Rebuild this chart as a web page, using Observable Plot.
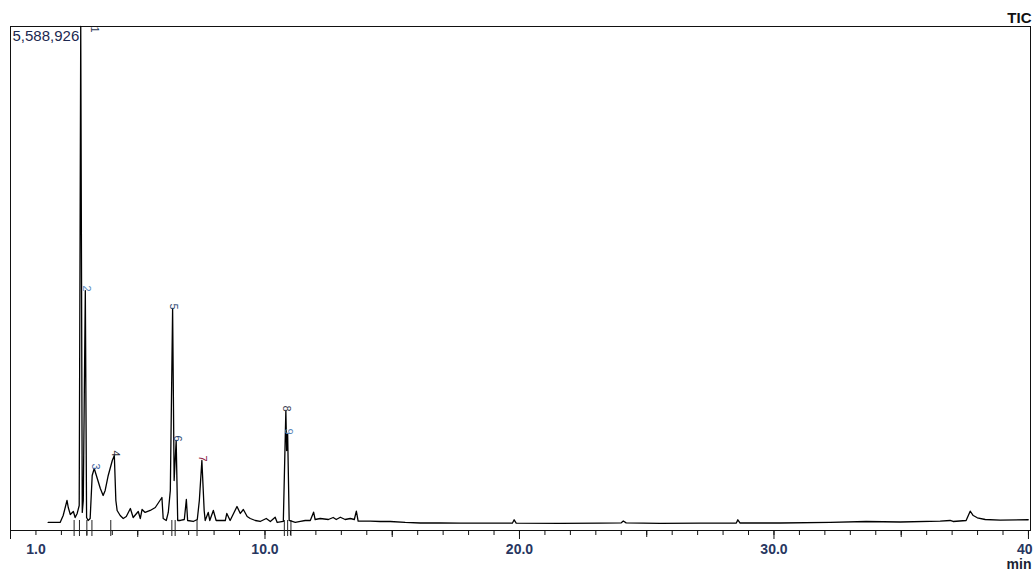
<!DOCTYPE html>
<html>
<head>
<meta charset="utf-8">
<script src="https://cdn.jsdelivr.net/npm/d3@7"></script>
<script src="https://cdn.jsdelivr.net/npm/@observablehq/plot@0.6"></script>
<style>
  html, body { margin: 0; padding: 0; background: #fff; overflow: hidden; }
  #chart { width: 1034px; height: 572px; }
</style>
</head>
<body>
<div id="chart"></div>
<script>
// Retention time (min)
const time = [1.48,1.95,2.07,2.22,2.27,2.35,2.47,2.54,2.62,2.70,2.76,2.82,2.86,2.94,2.99,3.05,3.13,3.21,3.29,3.41,3.53,3.64,3.72,3.84,4.00,4.08,4.14,4.19,4.31,4.43,4.55,4.71,4.82,5.02,5.10,5.17,5.29,5.49,5.69,5.95,6.00,6.12,6.20,6.28,6.37,6.43,6.51,6.57,6.67,6.83,6.91,6.96,7.18,7.34,7.42,7.52,7.61,7.65,7.77,7.83,7.97,8.08,8.44,8.50,8.63,8.90,9.03,9.15,9.30,9.42,9.62,9.81,10.05,10.21,10.40,10.48,10.72,10.82,10.85,10.89,10.95,11.19,11.39,11.58,11.78,11.91,11.97,12.17,12.49,12.68,12.80,12.96,13.15,13.35,13.51,13.59,13.66,14.14,14.53,14.92,15.51,16.10,16.89,17.67,18.85,19.72,19.79,19.87,21.60,23.17,24.00,24.08,24.19,25.53,27.10,28.52,28.58,28.67,30.25,32.21,33.62,34.96,36.53,36.92,37.04,37.55,37.71,37.83,37.99,38.30,38.89,39.99];
// Total ion current intensity
const intensity = [89000,89000,166000,333000,255000,177000,211000,144000,189000,277000,5588926,200000,333000,2661000,144000,111000,133000,610000,688000,577000,466000,388000,444000,610000,776000,832000,333000,222000,166000,133000,155000,244000,144000,211000,133000,233000,200000,222000,255000,366000,133000,111000,200000,444000,2462000,554000,998000,111000,111000,122000,344000,111000,100000,122000,333000,776000,222000,111000,200000,111000,222000,111000,111000,189000,111000,266000,189000,233000,155000,133000,111000,100000,133000,100000,147000,89000,100000,1331000,887000,1076000,111000,89000,100000,111000,111000,203000,122000,133000,122000,144000,122000,147000,122000,133000,122000,214000,103000,105000,100000,100000,89000,83000,83000,81000,81000,81000,119000,81000,78000,81000,85000,105000,85000,80000,81000,83000,119000,83000,83000,89000,100000,94000,105000,111000,100000,111000,214000,166000,141000,122000,116000,119000];

// Peak numbering
const peakLabels = ["1","2","3","4","5","6","7","8","9"];
const peakTimes = [2.76,2.94,3.29,4.08,6.37,6.51,7.52,10.82,10.89];
const peakHeights = [5588926,2661000,688000,832000,2462000,998000,776000,1331000,1076000];
// Integration boundary markers (min)
const boundaries = [2.50,2.71,3.00,3.20,3.94,6.34,6.47,7.33,10.76,10.89,11.02];

const maxLabel = "5,588,926";
const tickValues = [1, 10, 20, 30];
const tickText = ["1.0", "10.0", "20.0", "30.0"];
const lastTick = "40";
const unitLabel = "min";
const titleLabel = "TIC";

const signal = time.map((t, i) => ({t, v: intensity[i]}));
const peaks = peakLabels.map((l, i) => ({label: l, t: peakTimes[i], v: peakHeights[i], i}));
const labelColors = ["#2a3550","#5b8cc0","#3f5f9e","#2a2a35","#2b4670","#2b4670","#8b2040","#3a4050","#5a86b8"];

const YMAX = 5588926;
const pxPerUnit = 504 / YMAX;
const navy = "#27365f";

const chart = Plot.plot({
  width: 1034,
  height: 572,
  marginLeft: 10,
  marginRight: 4,
  marginTop: 26,
  marginBottom: 42,
  style: {fontFamily: "Arial, 'Liberation Sans', sans-serif", background: "#fff", color: "#000"},
  x: {domain: [0, 40.08], label: null},
  y: {domain: [0, YMAX], axis: null, label: null},
  marks: [
    Plot.frame({stroke: "#111", strokeWidth: 1}),
    Plot.axisX({ticks: d3.range(0, 41), tickSize: 5, tickFormat: () => "", stroke: "#111", label: null}),
    Plot.axisX({ticks: [5, 15, 25, 35], tickSize: 7, tickFormat: () => "", stroke: "#111", label: null}),
    Plot.axisX({ticks: [0, 10, 20, 30, 40], tickSize: 9, tickFormat: () => "", stroke: "#111", label: null}),
    Plot.axisX({ticks: tickValues, tickSize: 0, tickPadding: 14, tickFormat: (d) => tickText[tickValues.indexOf(d)], fontSize: 14, fontWeight: "bold", fill: navy, label: null}),
    Plot.text([lastTick], {x: () => 40, y: () => 0, text: d => d, dy: 19, dx: 4, lineAnchor: "middle", textAnchor: "end", fontSize: 14, fontWeight: "bold", fill: navy}),
    Plot.text([unitLabel], {x: () => 40, y: () => 0, text: d => d, dy: 34, dx: 3, lineAnchor: "middle", textAnchor: "end", fontSize: 14, fontWeight: "bold", fill: "#1a1f33"}),
    Plot.text([titleLabel], {frameAnchor: "top-right", text: d => d, dy: -8, dx: 1, lineAnchor: "middle", textAnchor: "end", fontSize: 15, fontWeight: "bold", fill: "#111"}),
    Plot.text([maxLabel], {frameAnchor: "top-left", text: d => d, dx: 2, dy: 10, lineAnchor: "middle", textAnchor: "start", fontSize: 15, fill: "#1c2850"}),
    Plot.ruleX(boundaries, {x: d => d, y1: () => 10 / pxPerUnit, y2: () => -6 / pxPerUnit, stroke: "#222", strokeWidth: 1}),
    Plot.line(signal, {x: "t", y: "v", stroke: "#000", strokeWidth: 1.3, curve: "linear"}),
    // peak 1 label sits beside the clipped top
    Plot.text(peaks.slice(0, 1), {x: "t", y: "v", text: "label", dx: 14, dy: 3, rotate: 90, fontSize: 11, fill: labelColors[0]}),
    Plot.text(peaks.slice(1), {x: "t", y: "v", text: "label", dx: 1, dy: -2, rotate: 90, fontSize: 11, fill: d => labelColors[d.i]})
  ]
});

document.getElementById("chart").appendChild(chart);
</script>
</body>
</html>
